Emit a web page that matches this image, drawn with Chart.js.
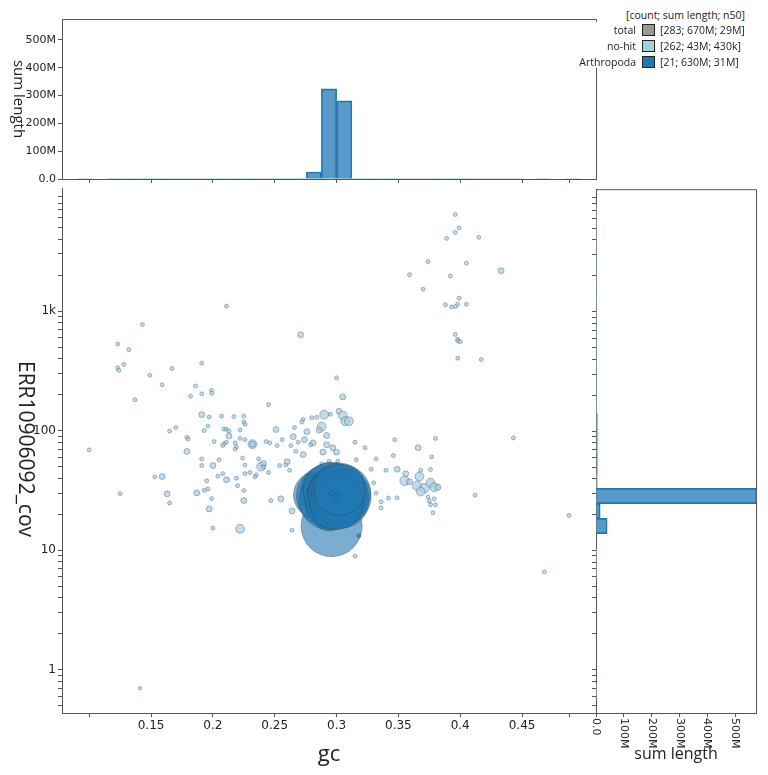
<!DOCTYPE html>
<html>
<head>
<meta charset="utf-8">
<script src="https://cdn.jsdelivr.net/npm/chart.js@4.4.1/dist/chart.umd.min.js"></script>
<style>
  body { margin: 0; background: #fff; width: 768px; height: 775px; position: relative; overflow: hidden; font-family: "Open Sans", sans-serif; color: #222; }
  .box { position: absolute; }
  canvas { display: block; }
  .title { position: absolute; white-space: nowrap; line-height: 1; transform: translate(-50%, -50%); }
  .rot { transform: translate(-50%, -50%) rotate(90deg); }
  .lg { position: absolute; font-size: 10.5px; line-height: 14px; white-space: nowrap; }
  .sw { position: absolute; width: 11px; height: 10px; border: 1.5px solid #222; }
</style>
</head>
<body>
<div class="box" style="left:0;top:179px;width:600px;height:596px"><canvas id="main" width="600" height="596"></canvas></div>
<div class="box" style="left:0;top:0;width:600px;height:190px"><canvas id="topHist" width="600" height="190"></canvas></div>
<div class="box" style="left:586px;top:179px;width:182px;height:596px"><canvas id="rightHist" width="182" height="596"></canvas></div>

<div class="title" style="left:329px;top:752px;font-size:22px">gc</div>
<div class="title rot" style="left:26px;top:449px;font-size:21px">ERR10906092_cov</div>
<div class="title rot" style="left:19px;top:99px;font-size:15px">sum length</div>
<div class="title" style="left:676px;top:753px;font-size:16px">sum length</div>
<div id="legend"></div>

<script>
// axis ranges
const gcMin = 0.078, gcMax = 0.5098;
const covMin = 0.435, covMax = 10640;
const lenMax = 575; // M
const nBins = 35;

const gcTicks = [0.1, 0.15, 0.2, 0.25, 0.3, 0.35, 0.4, 0.45, 0.4885];
const gcTickLabels = ['', '0.15', '0.2', '0.25', '0.3', '0.35', '0.4', '0.45', ''];
const covMajor = [1, 10, 100, 1000];
const covMajorLabels = ['1', '10', '100', '1k'];
const lenTicks = [0, 100, 200, 300, 400, 500];
const lenTickLabels = ['0.0', '100M', '200M', '300M', '400M', '500M'];

// no-hit contigs: gc, coverage, length (kb)
const noHitGc = [
  0.211, 0.143, 0.123, 0.132, 0.128, 0.123, 0.124, 0.167, 0.191, 0.149,
  0.159, 0.186, 0.199, 0.199, 0.191, 0.182, 0.137, 0.191, 0.197, 0.207,
  0.217, 0.225, 0.225, 0.226, 0.196, 0.193, 0.209, 0.211, 0.213, 0.222,
  0.165, 0.170, 0.179, 0.180, 0.213, 0.222, 0.226, 0.201, 0.209, 0.211,
  0.218, 0.208, 0.219, 0.218, 0.232, 0.179, 0.100, 0.191, 0.205, 0.224,
  0.237, 0.191, 0.200, 0.226, 0.239, 0.153, 0.159, 0.208, 0.204, 0.211,
  0.219, 0.226, 0.230, 0.235, 0.234, 0.195, 0.220, 0.196, 0.193, 0.187,
  0.163, 0.125, 0.225, 0.199, 0.165, 0.225, 0.197, 0.200, 0.222, 0.305,
  0.245, 0.290, 0.302, 0.305, 0.307, 0.310, 0.295, 0.280, 0.284, 0.273,
  0.272, 0.288, 0.286, 0.276, 0.266, 0.251, 0.292, 0.265, 0.274, 0.269,
  0.281, 0.256, 0.243, 0.246, 0.232, 0.252, 0.263, 0.292, 0.297, 0.279,
  0.267, 0.273, 0.289, 0.300, 0.315, 0.323, 0.347, 0.366, 0.380, 0.241,
  0.241, 0.254, 0.260, 0.259, 0.262, 0.245, 0.288, 0.294, 0.301, 0.316,
  0.332, 0.346, 0.377, 0.328, 0.340, 0.349, 0.356, 0.368, 0.376, 0.355,
  0.359, 0.365, 0.371, 0.376, 0.379, 0.382, 0.330, 0.332, 0.336, 0.342,
  0.349, 0.336, 0.374, 0.375, 0.379, 0.376, 0.380, 0.378, 0.247, 0.255,
  0.264, 0.264, 0.412, 0.367, 0.368, 0.396, 0.399, 0.396, 0.389, 0.415,
  0.374, 0.405, 0.359, 0.392, 0.433, 0.370, 0.399, 0.388, 0.398, 0.393,
  0.396, 0.405, 0.396, 0.398, 0.398, 0.400, 0.398, 0.417, 0.271, 0.300,
  0.443, 0.468, 0.488, 0.141, 0.315
];
const noHitCov = [
  1100, 770, 530, 475, 357, 335, 319, 331, 366, 290,
  242, 236, 217, 205, 203, 194, 181, 136, 130, 132,
  131, 132, 118, 113, 109, 100, 103, 103, 99, 101,
  99, 106, 88, 85, 90, 86, 84, 81, 78, 80,
  79, 75, 73, 70, 77, 67, 69, 58, 57, 59,
  58, 51, 51, 51.5, 50, 41, 41.3, 43.7, 41.6, 38.8,
  40, 43.7, 44.6, 42.6, 41, 38, 34.6, 32.5, 31.7, 30.1,
  29.6, 29.7, 31.5, 27, 24.8, 26, 22.1, 15.3, 15.1, 191,
  165, 136, 145, 134, 120, 120, 137, 128, 129, 124,
  118, 108, 101, 98, 106, 102, 91, 89, 84, 80,
  79, 84, 81, 79, 77, 75, 75, 76, 72, 76,
  67, 63, 66, 66, 80, 72, 84, 72, 86, 53,
  49.6, 51, 55, 51.5, 46.6, 44.6, 52.8, 55.5, 55.5, 57,
  58, 61.8, 60.3, 47.5, 46.6, 47.5, 43.7, 46.6, 47.2, 38,
  37.3, 34.6, 33, 36.6, 33.6, 33.6, 36.6, 30, 25.4, 27.3,
  27.4, 22.6, 27.8, 25.8, 26.9, 24, 24, 20.6, 26, 26.9,
  21.3, 14.7, 28.8, 41.3, 30.9, 6410, 4960, 4540, 4050, 4130,
  2590, 2510, 2010, 1960, 2170, 1520, 1280, 1130, 1140, 1080,
  1090, 1140, 637, 580, 562, 552, 403, 393, 634, 276,
  87, 6.6, 19.5, 0.70, 8.9
];
const noHitLen = [
  180, 180, 180, 180, 180, 180, 180, 180, 180, 180,
  180, 180, 180, 180, 180, 180, 180, 400, 180, 180,
  180, 180, 180, 180, 180, 180, 180, 180, 180, 180,
  180, 180, 180, 180, 400, 180, 180, 180, 180, 180,
  180, 180, 180, 180, 900, 400, 180, 180, 180, 180,
  180, 180, 400, 180, 900, 180, 400, 180, 180, 400,
  180, 180, 180, 180, 180, 180, 180, 180, 180, 400,
  400, 180, 180, 180, 180, 400, 400, 180, 900, 400,
  180, 900, 400, 900, 900, 900, 180, 180, 180, 180,
  180, 900, 400, 400, 180, 400, 400, 400, 400, 180,
  400, 180, 180, 180, 400, 180, 180, 400, 400, 180,
  180, 400, 400, 400, 180, 180, 180, 400, 180, 400,
  180, 180, 400, 180, 180, 180, 180, 180, 180, 180,
  180, 180, 180, 180, 180, 400, 400, 180, 180, 1000,
  400, 1000, 1000, 900, 900, 400, 180, 180, 180, 180,
  180, 180, 180, 180, 180, 180, 180, 180, 180, 400,
  400, 180, 180, 900, 900, 180, 180, 180, 180, 180,
  180, 180, 180, 180, 400, 180, 180, 180, 180, 180,
  180, 180, 180, 180, 180, 180, 180, 180, 400, 180,
  180, 180, 180, 130, 180
];

// Arthropoda contigs: gc, coverage, length (kb)
const arthGc = [0.296, 0.294, 0.284, 0.292, 0.295, 0.298, 0.293, 0.296, 0.299, 0.2975,
  0.301, 0.303, 0.305, 0.302, 0.304, 0.306, 0.300, 0.3025, 0.318, 0.300, 0.296];
const arthCov = [15.9, 20.5, 29, 28.5, 30.5, 27, 26, 31.5, 29, 25.5,
  29, 27.5, 30, 31.5, 26, 28, 25, 32, 13.2, 28, 30];
const arthLen = [43000, 15000, 25000, 42000, 40000, 38000, 38000, 37000, 36000, 36000,
  40000, 38000, 36000, 35000, 35000, 34000, 33000, 30000, 200, 400, 300];

// binned sum length (M) along gc (top) and along log coverage (right)
const arthGcHist = [0, 0, 0, 0, 0, 0, 0, 0, 0, 0, 0, 0, 0, 0, 0, 0, 25, 324, 281, 0,
  0, 0, 0, 0, 0, 0, 0, 0, 0, 0, 0, 0, 0, 0, 0];
const noHitGcHist = [0, 0.08, 0, 0.5, 0.4, 0.4, 0.6, 0.6, 1.0, 2.0, 2.5, 2.5, 2.5, 2.0, 2.5, 3.0, 4.5, 3.5, 2.5, 0.8,
  1.0, 1.0, 2.0, 3.5, 3.0, 1.2, 0.6, 0.3, 0.2, 0.1, 0, 0.08, 0, 0.08, 0];
const arthCovHist = [0, 0, 0, 0, 0, 0, 0, 0, 0, 0, 0, 0, 40, 15, 578, 0, 0, 0, 0, 0,
  0, 0, 0, 0, 0, 0, 0, 0, 0, 0, 0, 0, 0, 0, 0];
const noHitCovHist = [0, 0.08, 0, 0, 0, 0, 0, 0, 0, 0.08, 0.08, 0, 1.5, 2, 3.5, 5, 6, 7, 8, 6,
  1, 1.2, 0.8, 0.6, 0.5, 0.4, 0.2, 0.5, 0.2, 0.3, 0.1, 0.2, 0.2, 0.08, 0];

const legendNames = ['total', 'no-hit', 'Arthropoda'];
const legendStats = ['[283; 670M; 29M]', '[262; 43M; 430k]', '[21; 630M; 31M]'];
const legendColors = ['#999999', '#a6cee3', '#1f78b4'];

// ---- helpers
const plotSize = 534; // px, side of the square scatter area
const radiusFor = kb => 0.1474 * Math.sqrt(kb);
const axisColor = '#555';
const tickFont = { family: 'DejaVu Sans', size: 12 };
const histTickFont = { family: 'DejaVu Sans', size: 11 };

const covTickValues = [];
for (let e = -1; e <= 3; e++) {
  for (let k = 1; k <= 9; k++) {
    const v = k * Math.pow(10, e);
    if (v >= covMin && v <= covMax) covTickValues.push(v);
  }
}
const covLabel = v => {
  const i = covMajor.findIndex(m => Math.abs(m - v) < 1e-9);
  return i >= 0 ? covMajorLabels[i] : '';
};

const gcStep = (gcMax - gcMin) / nBins;
const gcCenters = arthGcHist.map((_, i) => gcMin + (i + 0.5) * gcStep);
const logMin = Math.log10(covMin), logMax = Math.log10(covMax);
const logStep = (logMax - logMin) / nBins;
const logCenters = arthCovHist.map((_, i) => logMin + (i + 0.5) * logStep);

const baseGrid = { display: true, drawOnChartArea: false, drawTicks: true, tickLength: 4, color: axisColor };
const baseBorder = { display: true, color: axisColor, width: 1 };
const histBar = { grouped: false, barThickness: plotSize / nBins, borderSkipped: 'start' };

// ---- main scatter
new Chart(document.getElementById('main'), {
  type: 'scatter',
  data: {
    datasets: [{
      label: 'Arthropoda',
      data: arthGc.map((g, i) => ({ x: g, y: arthCov[i] })),
      pointRadius: arthLen.map(radiusFor),
      backgroundColor: 'rgba(31,120,180,0.6)',
      borderColor: 'rgba(50,60,70,0.35)',
      borderWidth: 1
    }, {
      label: 'no-hit',
      data: noHitGc.map((g, i) => ({ x: g, y: noHitCov[i] })),
      pointRadius: noHitLen.map(radiusFor),
      backgroundColor: 'rgba(166,206,227,0.7)',
      borderColor: 'rgba(70,95,120,0.55)',
      borderWidth: 0.8
    }]
  },
  options: {
    responsive: false,
    animation: false,
    events: [],
    layout: { autoPadding: false, padding: { top: 0, right: 4, left: 0, bottom: 0 } },
    plugins: { legend: { display: false }, tooltip: { enabled: false } },
    scales: {
      x: {
        type: 'linear', min: gcMin, max: gcMax,
        afterFit: s => { s.height = 62; },
        afterBuildTicks: s => { s.ticks = gcTicks.map(v => ({ value: v })); },
        ticks: { autoSkip: false, maxRotation: 0, padding: 2, font: tickFont, color: '#222',
          callback: (v, i) => gcTickLabels[i] },
        grid: baseGrid, border: baseBorder
      },
      y: {
        type: 'logarithmic', min: covMin, max: covMax,
        afterFit: s => { s.width = 62; },
        afterBuildTicks: s => { s.ticks = covTickValues.map(v => ({ value: v })); },
        ticks: { autoSkip: false, padding: 2, font: tickFont, color: '#222',
          callback: v => covLabel(v) },
        grid: baseGrid, border: baseBorder
      }
    }
  }
});

// ---- top histogram (sum length by gc)
new Chart(document.getElementById('topHist'), {
  type: 'bar',
  data: {
    datasets: [Object.assign({
      label: 'Arthropoda',
      data: gcCenters.map((x, i) => ({ x: x, y: arthGcHist[i] })),
      backgroundColor: 'rgba(31,120,180,0.75)',
      borderColor: '#1f78b4', borderWidth: 1
    }, histBar), Object.assign({
      label: 'no-hit',
      data: gcCenters.map((x, i) => ({ x: x, y: noHitGcHist[i] })),
      backgroundColor: 'rgba(166,206,227,0.8)',
      borderColor: '#8fbcd8', borderWidth: 1
    }, histBar)]
  },
  options: {
    responsive: false,
    animation: false,
    events: [],
    layout: { autoPadding: false, padding: { top: 19, right: 4, left: 0, bottom: 0 } },
    plugins: { legend: { display: false }, tooltip: { enabled: false } },
    scales: {
      x: {
        type: 'linear', min: gcMin, max: gcMax, offset: false,
        afterFit: s => { s.height = 11; },
        afterBuildTicks: s => { s.ticks = gcTicks.map(v => ({ value: v })); },
        ticks: { autoSkip: false, maxRotation: 0, callback: () => '' },
        grid: Object.assign({}, baseGrid, { offset: false }), border: baseBorder
      },
      y: {
        type: 'linear', min: 0, max: lenMax,
        afterFit: s => { s.width = 62; },
        afterBuildTicks: s => { s.ticks = lenTicks.map(v => ({ value: v })); },
        ticks: { autoSkip: false, padding: 2, font: histTickFont, color: '#222',
          callback: (v, i) => lenTickLabels[i] },
        grid: baseGrid, border: baseBorder
      }
    }
  },
  plugins: [{
    id: 'topFrame',
    afterDraw(chart) {
      const { ctx, chartArea: a } = chart;
      ctx.save();
      ctx.strokeStyle = axisColor;
      ctx.lineWidth = 1;
      ctx.beginPath();
      ctx.moveTo(a.left, a.top + 0.5);
      ctx.lineTo(a.right + 0.5, a.top + 0.5);
      ctx.lineTo(a.right + 0.5, a.top + 3);
      ctx.moveTo(a.right + 0.5, 68);
      ctx.lineTo(a.right + 0.5, a.bottom);
      ctx.stroke();
      ctx.restore();
    }
  }]
});

// ---- right histogram (sum length by coverage)
new Chart(document.getElementById('rightHist'), {
  type: 'bar',
  data: {
    datasets: [Object.assign({
      label: 'Arthropoda',
      data: logCenters.map((y, i) => ({ y: y, x: arthCovHist[i] })),
      backgroundColor: 'rgba(31,120,180,0.75)',
      borderColor: '#1f78b4', borderWidth: 1
    }, histBar), Object.assign({
      label: 'no-hit',
      data: logCenters.map((y, i) => ({ y: y, x: noHitCovHist[i] })),
      backgroundColor: 'rgba(166,206,227,0.8)',
      borderColor: '#8fbcd8', borderWidth: 1
    }, histBar)]
  },
  options: {
    indexAxis: 'y',
    responsive: false,
    animation: false,
    events: [],
    layout: { autoPadding: false, padding: { top: 0, right: 12, left: 0, bottom: 0 } },
    plugins: { legend: { display: false }, tooltip: { enabled: false } },
    scales: {
      x: {
        type: 'linear', min: 0, max: lenMax,
        afterFit: s => { s.height = 62; },
        afterBuildTicks: s => { s.ticks = lenTicks.map(v => ({ value: v })); },
        ticks: { autoSkip: false, maxRotation: 0, callback: () => '' },
        grid: baseGrid, border: baseBorder
      },
      y: {
        type: 'linear', min: logMin, max: logMax, offset: false,
        afterFit: s => { s.width = 10; },
        afterBuildTicks: s => { s.ticks = covTickValues.map(v => ({ value: Math.log10(v) })); },
        ticks: { autoSkip: false, callback: () => '' },
        grid: Object.assign({}, baseGrid, { offset: false }), border: baseBorder
      }
    }
  },
  plugins: [{
    id: 'rightFrame',
    afterDraw(chart) {
      const { ctx, chartArea: a } = chart;
      const xs = chart.scales.x;
      ctx.save();
      ctx.strokeStyle = axisColor;
      ctx.lineWidth = 1;
      ctx.beginPath();
      ctx.moveTo(a.left, a.top + 0.5);
      ctx.lineTo(a.right + 0.5, a.top + 0.5);
      ctx.lineTo(a.right + 0.5, a.bottom);
      ctx.stroke();
      ctx.fillStyle = '#222';
      ctx.font = '11px "DejaVu Sans"';
      ctx.textAlign = 'left';
      ctx.textBaseline = 'middle';
      lenTicks.forEach((v, i) => {
        ctx.save();
        ctx.translate(xs.getPixelForValue(v), a.bottom + 5);
        ctx.rotate(Math.PI / 2);
        ctx.fillText(lenTickLabels[i], 0, 0);
        ctx.restore();
      });
      ctx.restore();
    }
  }]
});

// ---- legend
const lg = document.getElementById('legend');
const head = document.createElement('div');
head.className = 'lg';
head.style.right = (768 - 745) + 'px';
head.style.top = '8px';
head.textContent = '[count; sum length; n50]';
lg.appendChild(head);
legendNames.forEach((name, i) => {
  const cy = 30 + 16 * i;
  const t = document.createElement('div');
  t.className = 'lg';
  t.style.right = (768 - 636) + 'px';
  t.style.top = (cy - 7) + 'px';
  t.textContent = name;
  const sw = document.createElement('div');
  sw.className = 'sw';
  sw.style.left = '642px';
  sw.style.top = (cy - 6.5) + 'px';
  sw.style.background = legendColors[i];
  const st = document.createElement('div');
  st.className = 'lg';
  st.style.left = '660px';
  st.style.top = (cy - 7) + 'px';
  st.textContent = legendStats[i];
  lg.appendChild(t); lg.appendChild(sw); lg.appendChild(st);
});
</script>
</body>
</html>
